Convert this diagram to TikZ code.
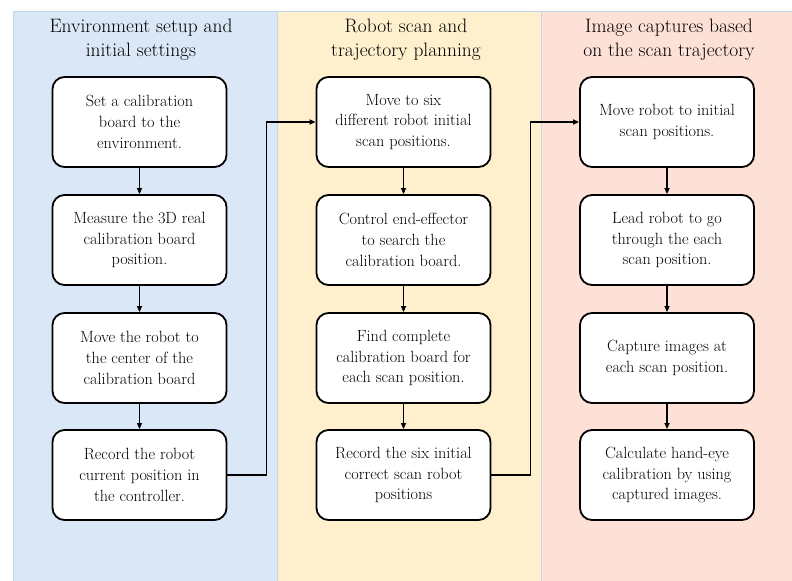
\documentclass[tikz,border=0pt]{standalone}
\usetikzlibrary{arrows.meta}
\definecolor{pblue}{HTML}{DAE7F6}
\definecolor{pyellow}{HTML}{FEF0CD}
\definecolor{ppink}{HTML}{FDE1D7}
\definecolor{pedge}{HTML}{C3D8EE}
\tikzset{
  panel/.style={fill=#1, draw=pedge, line width=0.8bp},
  stepbox/.style={draw=black, fill=white, line width=1.8bp, rounded corners=12bp,
    minimum width=174bp, minimum height=90bp, align=center,
    font=\rmfamily\fontsize{16.3}{21}\selectfont, inner sep=2bp},
  ttl/.style={align=center, font=\rmfamily\fontsize{19.5}{24.5}\selectfont},
  arr/.style={draw=black, line width=1.6bp, -{Triangle[length=6bp,width=5bp]}}
}
\begin{document}
\begin{tikzpicture}[x=1bp,y=-1bp]
\useasboundingbox (0,0) rectangle (792,581);
\fill[white] (0,0) rectangle (792,581);
\draw[panel=pblue] (13,11) rectangle (277,590);
\draw[panel=pyellow] (277,11) rectangle (541,590);
\draw[panel=ppink] (541,11) rectangle (800,590);

\node[ttl] (t1) at (141,40) {Environment setup and\\initial settings};
\node[ttl] (t2) at (406,40) {Robot scan and\\trajectory planning};
\node[ttl] (t3) at (669,40) {Image captures based\\on the scan trajectory};

\node[stepbox] (L1) at (139.5,122) {Set a calibration\\board to the\\environment.};
\node[stepbox] (L2) at (139.5,240) {Measure the 3D real\\calibration board\\position.};
\node[stepbox] (L3) at (139.5,358) {Move the robot to\\the center of the\\calibration board};
\node[stepbox] (L4) at (139.5,475) {Record the robot\\current position in\\the controller.};

\node[stepbox] (M1) at (403.5,122) {Move to six\\different robot initial\\scan positions.};
\node[stepbox] (M2) at (403.5,240) {Control end-effector\\to search the\\calibration board.};
\node[stepbox] (M3) at (403.5,358) {Find complete\\calibration board for\\each scan position.};
\node[stepbox] (M4) at (403.5,475) {Record the six initial\\correct scan robot\\positions};

\node[stepbox] (R1) at (667,122) {Move robot to initial\\scan positions.};
\node[stepbox] (R2) at (667,240) {Lead robot to go\\through the each\\scan position.};
\node[stepbox] (R3) at (667,358) {Capture images at\\each scan position.};
\node[stepbox] (R4) at (667,475) {Calculate hand-eye\\calibration by using\\captured images.};

\draw[arr] (L1) -- (L2);
\draw[arr] (L2) -- (L3);
\draw[arr] (L3) -- (L4);
\draw[arr] (M1) -- (M2);
\draw[arr] (M2) -- (M3);
\draw[arr] (M3) -- (M4);
\draw[arr] (R1) -- (R2);
\draw[arr] (R2) -- (R3);
\draw[arr] (R3) -- (R4);

\draw[arr] (L4.east) -- ++(39,0) |- (M1.west);
\draw[arr] (M4.east) -- ++(39,0) |- (R1.west);
\end{tikzpicture}
\end{document}
